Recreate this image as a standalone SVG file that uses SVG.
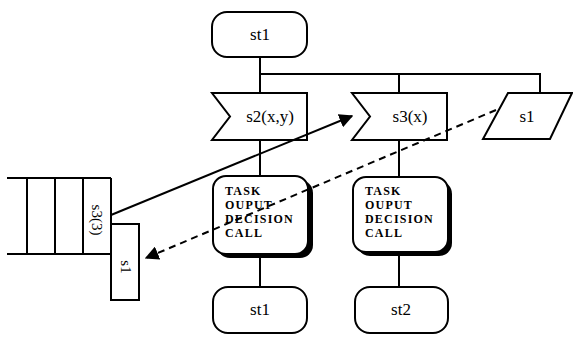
<svg xmlns="http://www.w3.org/2000/svg" width="573" height="337" viewBox="0 0 573 337">
<defs>
<style>
.s{fill:#fff;stroke:#000;stroke-width:2}
.l{fill:none;stroke:#000;stroke-width:2}
.t{font-family:"Liberation Serif","Times New Roman",serif;font-size:17px;fill:#000}
.tk{font-family:"Liberation Serif","Times New Roman",serif;font-size:12px;font-weight:bold;fill:#000;letter-spacing:1.2px}
.q{font-family:"Liberation Serif","Times New Roman",serif;font-size:15px;fill:#000}
</style>
<marker id="ah" viewBox="0 0 10 10" refX="9" refY="5" markerWidth="7" markerHeight="7" orient="auto" markerUnits="strokeWidth">
<path d="M0,0 L10,5 L0,10 z" fill="#000"/>
</marker>
</defs>
<rect width="573" height="337" fill="#fff"/>
<g id="connectors">
<line class="l" x1="260" y1="57" x2="260" y2="93"/>
<polyline class="l" points="260,74 540,74 540,93"/>
<line class="l" x1="399" y1="74" x2="399" y2="93"/>
<line class="l" x1="260" y1="140" x2="260" y2="176"/>
<line class="l" x1="399" y1="140" x2="399" y2="177"/>
<line class="l" x1="260" y1="256" x2="260" y2="287"/>
<line class="l" x1="399" y1="254" x2="399" y2="287"/>
</g>
<g id="st1_top">
<rect class="s" x="212" y="12" width="95" height="45" rx="15"/>
<text class="t" x="260" y="40" text-anchor="middle">st1</text>
</g>
<g id="s2">
<path class="s" d="M212,93 L307,93 L307,140 L212,140 L230,116.5 Z"/>
<text class="t" x="270" y="122" text-anchor="middle">s2(x,y)</text>
</g>
<g id="s3">
<path class="s" d="M352,93 L447,93 L447,140 L352,140 L370,116.5 Z"/>
<text class="t" x="410" y="122" text-anchor="middle">s3(x)</text>
</g>
<g id="s1_out">
<path class="s" d="M508,93 L572,93 L550,139 L483,139 Z"/>
<text class="t" x="527" y="122" text-anchor="middle">s1</text>
</g>
<g id="task1">
<rect x="217" y="180" width="96" height="78" rx="13" fill="#000"/>
<rect class="s" x="213" y="176" width="95" height="78" rx="13"/>
<text class="tk" x="225" y="195">TASK</text>
<text class="tk" x="225" y="209">OUPUT</text>
<text class="tk" x="225" y="223">DECISION</text>
<text class="tk" x="225" y="237">CALL</text>
</g>
<g id="task2">
<rect x="357" y="181" width="95" height="75" rx="13" fill="#000"/>
<rect class="s" x="353" y="177" width="95" height="75" rx="13"/>
<text class="tk" x="365" y="195">TASK</text>
<text class="tk" x="365" y="209">OUPUT</text>
<text class="tk" x="365" y="223">DECISION</text>
<text class="tk" x="365" y="237">CALL</text>
</g>
<g id="st1_end">
<rect class="s" x="213" y="287" width="94" height="46" rx="15"/>
<text class="t" x="260" y="315" text-anchor="middle">st1</text>
</g>
<g id="st2_end">
<rect class="s" x="355" y="287" width="93" height="46" rx="15"/>
<text class="t" x="401" y="315" text-anchor="middle">st2</text>
</g>
<g id="queue">
<line class="l" x1="7" y1="178" x2="111" y2="178"/>
<line class="l" x1="7" y1="254" x2="111" y2="254"/>
<line class="l" x1="27" y1="178" x2="27" y2="254"/>
<line class="l" x1="55" y1="178" x2="55" y2="254"/>
<line class="l" x1="83" y1="178" x2="83" y2="254"/>
<line class="l" x1="111" y1="178" x2="111" y2="254"/>
<text class="q" transform="translate(92,220) rotate(90)" text-anchor="middle">s3(3)</text>
</g>
<g id="s1_save">
<rect class="s" x="111" y="224" width="28" height="76"/>
<text class="q" transform="translate(121,267) rotate(90)" text-anchor="middle">s1</text>
</g>
<g id="arrows">
<line class="l" x1="111" y1="215" x2="352" y2="116" marker-end="url(#ah)"/>
<line class="l" x1="496" y1="110" x2="146" y2="258" stroke-dasharray="7,5" marker-end="url(#ah)"/>
</g>
</svg>
